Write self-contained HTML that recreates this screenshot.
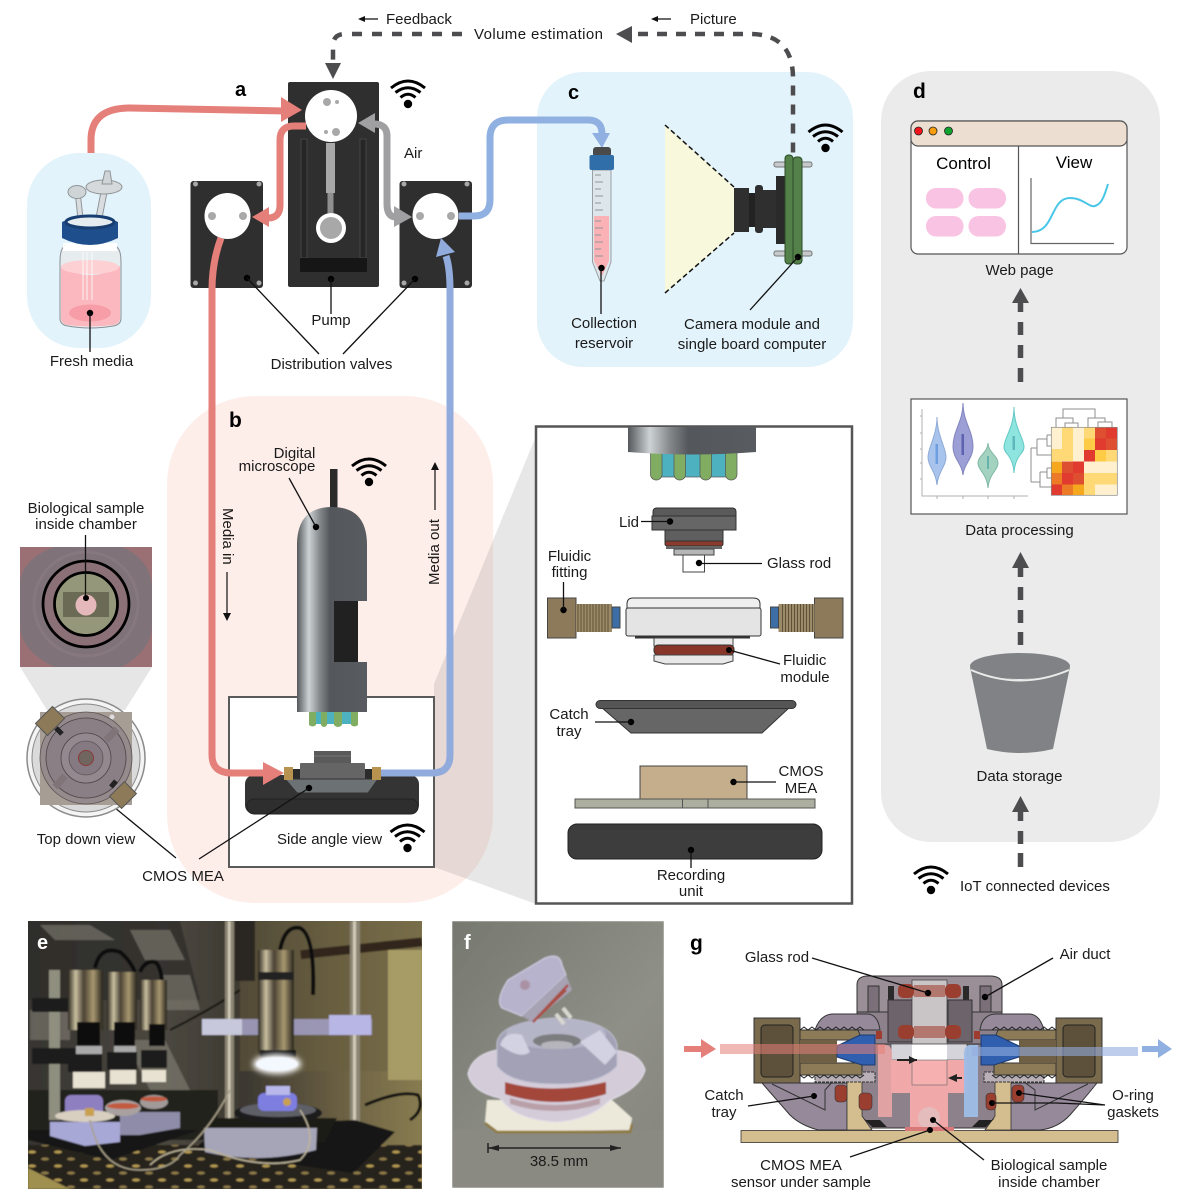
<!DOCTYPE html>
<html><head><meta charset="utf-8"><style>
html,body{margin:0;padding:0;background:#fff}
svg{display:block}
text{font-family:"Liberation Sans",sans-serif;font-size:15px;fill:#1a1a1a}
.m{text-anchor:middle}
.b{font-weight:bold;font-size:20px;fill:#000}
.ln{stroke:#111;stroke-width:1.3;fill:none}
.t{fill:none;stroke-width:7;stroke-linecap:butt}
.dash{fill:none;stroke:#4d4d4f;stroke-width:4.5}
</style></head><body>
<svg width="1191" height="1199" viewBox="0 0 1191 1199" xmlns="http://www.w3.org/2000/svg">
<defs>
<linearGradient id="scope" x1="0" x2="1" y1="0" y2="0"><stop offset="0" stop-color="#54585b"/><stop offset=".17" stop-color="#cdd2d5"/><stop offset=".33" stop-color="#83878a"/><stop offset=".47" stop-color="#54585c"/><stop offset="1" stop-color="#585c60"/></linearGradient>
<linearGradient id="metal" x1="0" x2="1" y1="0" y2="0"><stop offset="0" stop-color="#2a261e"/><stop offset=".22" stop-color="#c9bf9f"/><stop offset=".45" stop-color="#4a4234"/><stop offset=".72" stop-color="#a89870"/><stop offset="1" stop-color="#26221c"/></linearGradient>
<linearGradient id="fbg" x1="0" x2="1" y1="0" y2="1"><stop offset="0" stop-color="#76786f"/><stop offset=".6" stop-color="#8e8f86"/><stop offset="1" stop-color="#85847d"/></linearGradient>
<linearGradient id="ebg" x1="0" x2="1" y1="0" y2="0"><stop offset="0" stop-color="#35332f"/><stop offset=".35" stop-color="#4c4840"/><stop offset=".55" stop-color="#3c3830"/><stop offset=".8" stop-color="#6e6344"/><stop offset="1" stop-color="#8a7e52"/></linearGradient>
<pattern id="holes" x="0" y="0" width="26" height="14" patternUnits="userSpaceOnUse"><rect width="26" height="14" fill="#25231f"/><ellipse cx="6" cy="4" rx="4" ry="1.500" fill="#b59a52"/><ellipse cx="19" cy="11" rx="4" ry="1.500" fill="#8d7a48"/></pattern>
<filter id="bl" x="-5%" y="-5%" width="110%" height="110%"><feGaussianBlur stdDeviation=".9"/></filter>
<filter id="gl" x="-40%" y="-80%" width="180%" height="260%"><feGaussianBlur stdDeviation="3"/></filter>
<clipPath id="ce"><rect x="28" y="921" width="394" height="268"/></clipPath>
<clipPath id="cf"><rect x="452" y="921" width="212" height="267"/></clipPath>
<g id="wifi"><circle cx="0" cy="0" r="4.2" fill="#000"/><path d="M-7.5,-6.5Q0,-13 7.5,-6.5M-12.5,-11.5Q0,-21 12.5,-11.5M-17,-16Q0,-30 17,-16" fill="none" stroke="#000" stroke-width="3"/></g>
</defs>

<!-- panels -->
<rect x="27" y="153" width="124" height="195" rx="52" fill="#e3f3fb"/>
<rect x="537" y="72" width="316" height="295" rx="46" fill="#e3f3fb"/>
<rect x="881" y="71" width="279" height="771" rx="50" fill="#ebebeb"/>
<rect x="167" y="396" width="326" height="507" rx="88" fill="#feeeea"/>
<polygon points="434,684 536,436 536,904 434,867" fill="#6e6e6e" fill-opacity=".17"/>

<!-- top feedback -->
<path class="dash" d="M462,34H345Q333,34 333,46V62" stroke-dasharray="10 10"/>
<polygon points="325,63 341,63 333,79" fill="#4d4d4f"/>
<polygon points="616,34 632,26 632,43" fill="#4d4d4f"/>
<path class="dash" d="M638,34H750Q793,34 793,78V155" stroke-dasharray="10 9"/>
<path d="M364,19H378M657,19H671" stroke="#111" stroke-width="1.3"/>
<polygon points="358,19 365,16 365,22" fill="#111"/><polygon points="651,19 658,16 658,22" fill="#111"/>
<text x="386" y="24">Feedback</text>
<text x="474" y="39" textLength="129">Volume estimation</text>
<text x="690" y="24">Picture</text>
<text x="235" y="96" class="b">a</text>

<!-- pump -->
<rect x="288" y="82" width="91" height="205" rx="2" fill="#2f2f2f"/>
<rect x="301" y="139" width="6" height="119" fill="#262626" stroke="#444"/><rect x="360" y="139" width="6" height="119" fill="#262626" stroke="#444"/>
<rect x="300" y="258" width="67" height="14" rx="1" fill="#161616"/>
<rect x="326" y="143" width="9" height="50" fill="#a8a8a8"/><rect x="327.500" y="193" width="6" height="20" fill="#8f8f8f"/>
<circle cx="331" cy="228" r="15" fill="#fff"/><circle cx="331" cy="228" r="11" fill="#a8a8a8"/>
<circle cx="331" cy="116" r="26" fill="#fff"/>
<circle cx="327" cy="102" r="4" fill="#a8a8a8"/><circle cx="337" cy="102" r="2" fill="#a8a8a8"/><circle cx="326" cy="132" r="2" fill="#a8a8a8"/><circle cx="336" cy="132" r="4" fill="#a8a8a8"/>
<!-- valves -->
<g id="v1"><rect x="190.500" y="181" width="72.500" height="107" rx="3" fill="#2f2f2f"/>
<circle cx="195.500" cy="184" r="2.500" fill="#a8a8a8"/><circle cx="259" cy="184" r="2.500" fill="#a8a8a8"/><circle cx="195.500" cy="283" r="2.500" fill="#a8a8a8"/><circle cx="259" cy="283" r="2.500" fill="#a8a8a8"/>
<circle cx="227.500" cy="216" r="23" fill="#fff"/><circle cx="212" cy="216" r="4" fill="#a8a8a8"/><circle cx="243" cy="216" r="4" fill="#a8a8a8"/></g>
<rect x="399.500" y="181" width="72.500" height="107" rx="3" fill="#2f2f2f"/>
<circle cx="404" cy="184" r="2.500" fill="#a8a8a8"/><circle cx="467" cy="184" r="2.500" fill="#a8a8a8"/><circle cx="404" cy="283" r="2.500" fill="#a8a8a8"/><circle cx="467" cy="283" r="2.500" fill="#a8a8a8"/>
<circle cx="435.500" cy="216" r="23" fill="#fff"/><circle cx="420" cy="216" r="4" fill="#a8a8a8"/><circle cx="451" cy="216" r="4" fill="#a8a8a8"/>

<!-- bottle -->
<path d="M81,223 L78,196" stroke="#8f9598" stroke-width="6" fill="none"/><path d="M81,223 L78,196" stroke="#d9dde0" stroke-width="4" fill="none"/>
<path d="M98,223 L104,192" stroke="#8f9598" stroke-width="7" fill="none"/><path d="M98,223 L104,192" stroke="#d9dde0" stroke-width="5" fill="none"/>
<ellipse cx="77" cy="192" rx="9" ry="6.500" fill="#cfd4d6" stroke="#8f9598"/><ellipse cx="104" cy="187" rx="18" ry="7" fill="#d5d9db" stroke="#8f9598"/><path d="M105,171l5,0 2,13h-10z" fill="#cfd4d6" stroke="#8f9598"/>
<path d="M60,262q0,-14 5,-16h50q6,2 6,16v56q0,7 -8,8q-23,4 -45,0q-8,-1 -8,-8z" fill="#e7ecef" stroke="#8a8f93" stroke-width="1"/>
<path d="M61,266Q90,284 120,266V318q0,6 -7,7q-23,3 -45,0q-7,-1 -7,-7z" fill="#fbb9bf"/>
<ellipse cx="90" cy="267" rx="29" ry="7" fill="#fdd0d4"/>
<ellipse cx="90" cy="313" rx="21" ry="8.500" fill="#f79da8"/>
<path d="M83,252V300M92,252V300M87,252V300" stroke="#fff" stroke-opacity=".4" stroke-width="2"/>
<rect x="63" y="243" width="54" height="8" fill="#fff"/>
<path d="M62,222Q90,208 118,222V238Q90,252 62,238Z" fill="#1f4e8c"/><ellipse cx="90" cy="222" rx="24" ry="6" fill="#e4ecf0" stroke="#173e70" stroke-width="3"/>
<circle cx="90" cy="313" r="3.200" fill="#000"/><path class="ln" d="M90,313V352"/>
<text x="91.500" y="366" class="m">Fresh media</text>

<!-- tubes a -->
<path class="t" stroke="#e57f79" d="M91,153V140Q91,108 130,108L285,111"/>
<polygon points="281,97 302,110 281,122" fill="#e57f79"/>
<path class="t" stroke="#e57f79" d="M306,126H294Q280,126 280,140V205Q280,218 268,218"/>
<polygon points="252,217 269,207 269,227" fill="#e57f79"/>
<path class="t" stroke="#a0a0a2" d="M374,124Q387,124 387,136V204Q387,217 396,217"/>
<polygon points="358,123 375,113 375,133" fill="#a0a0a2"/><polygon points="412,217 394,206 394,227" fill="#a0a0a2"/>
<text x="404" y="158">Air</text>

<!-- leader a -->
<circle cx="331" cy="279" r="3.200" fill="#000"/><circle cx="247" cy="278" r="3.200" fill="#000"/><circle cx="415" cy="279" r="3.200" fill="#000"/>
<path class="ln" d="M331,279V314M247,278L319,354M415,279L343,354"/>
<text x="331" y="325" class="m">Pump</text>
<text x="331.500" y="369" class="m">Distribution valves</text>

<!-- wedge-left -->
<polygon points="20,667 152,667 125,710 47,710" fill="#e6e6e6"/>

<!-- box side -->
<rect x="229" y="697" width="205" height="170" fill="#fff" stroke="#5a5a5a" stroke-width="2"/>
<rect x="245" y="775" width="174" height="39" rx="9" fill="#343434"/>
<rect x="247" y="799" width="171" height="15" rx="7" fill="#2e2e2e" stroke="#222"/>
<rect x="293" y="769" width="79" height="10" fill="#2b2b2b"/>
<rect x="314" y="751" width="37" height="13" fill="#5a5a5a"/><path d="M314,756H351" stroke="#777"/>
<rect x="300" y="763" width="65" height="16" rx="1" fill="#656565"/>
<polygon points="285,779 378,779 368,793 297,793" fill="#6c7274" stroke="#333"/>
<rect x="284" y="767" width="9" height="13" fill="#b8924f"/><rect x="372" y="767" width="9" height="13" fill="#b8924f"/>

<!-- tubes b -->
<path class="t" stroke="#e57f79" d="M221,238Q212,262 212,290V755Q212,773 232,773H266"/>
<polygon points="263,762 284,773 263,785" fill="#e57f79"/>
<path class="t" stroke="#92abdd" d="M381,773H432Q450,773 450,755V290Q450,268 446,256"/>
<polygon points="441,238 455,252 436,257" fill="#92abdd"/>
<!-- blue to c -->
<path class="t" stroke="#8fb0e0" d="M459,216H474Q490,216 490,200V138Q490,120 508,120H588Q602,120 602,134"/>
<polygon points="602,148 592,133 610,133" fill="#8fb0e0"/>

<use href="#wifi" x="408" y="104"/>
<use href="#wifi" x="825.500" y="148"/>
<use href="#wifi" x="369" y="482"/>
<use href="#wifi" x="407.500" y="848"/>
<use href="#wifi" x="931" y="890"/>

<!-- microscope -->
<rect x="330" y="469" width="7.500" height="40" fill="#2b2b2b"/>
<rect x="310" y="712" width="48" height="12" fill="#4db1c0"/>
<path d="M309,712h7v13q-3.500,3 -7,0zM321,712h6v13q-3,4 -6,0zM334,712h8v13q-4,4 -8,0zM351,712h7v13q-3.500,3 -7,0z" fill="#80ad62"/>
<path d="M297,545Q297,507 332,507Q367,507 367,545V601H334V662H367V712H297Z" fill="url(#scope)"/>
<rect x="334" y="601" width="24" height="61" fill="#212121"/>
<circle cx="316" cy="527" r="3.200" fill="#000"/><path class="ln" d="M289,478L316,527"/>
<text x="294.500" y="458" class="m">Digital</text>
<text x="277" y="471" class="m">microscope</text>
<text x="229" y="427" class="b" style="font-size:21px">b</text>
<circle cx="309" cy="788" r="3.200" fill="#000"/><path class="ln" d="M309,788L199,859"/>
<circle cx="103" cy="798" r="3" fill="#000"/><path class="ln" d="M103,798L176,858"/>
<text x="277" y="844">Side angle view</text>
<text x="86" y="844" class="m">Top down view</text>
<text x="183" y="881" class="m">CMOS MEA</text>
<text transform="translate(223,508) rotate(90)">Media in</text>
<path d="M227,572V614" stroke="#111" stroke-width="1.200"/><polygon points="227,621 223,613 231,613" fill="#111"/>
<text transform="translate(439,585) rotate(-90)">Media out</text>
<path d="M435,510V468" stroke="#111" stroke-width="1.200"/><polygon points="435,462 431,470 439,470" fill="#111"/>

<!-- inset top-down -->
<rect x="20" y="547" width="132" height="120" fill="#7f7379"/>
<path d="M20,547h34Q20,560 20,585zM152,547h-30Q152,560 152,590zM20,667h34Q20,650 20,625zM152,667h-30Q152,650 152,625z" fill="#9a7074"/>
<circle cx="86" cy="604" r="52" fill="none" stroke="#87787f" stroke-width="3"/>
<circle cx="86" cy="604" r="43" fill="#8b7078" stroke="#000" stroke-width="2.800"/>
<circle cx="86" cy="604" r="31.500" fill="#95977a" stroke="#000" stroke-width="2.800"/>
<rect x="63" y="592" width="46" height="25" fill="#6b6b55"/>
<circle cx="86" cy="605" r="10.500" fill="#e5b9bb"/>
<path class="ln" d="M85.500,535V598"/><circle cx="86" cy="598" r="3" fill="#000"/>
<text x="86" y="513" class="m">Biological sample</text>
<text x="86" y="529" class="m">inside chamber</text>
<circle cx="86" cy="758" r="59" fill="#f4f4f4" stroke="#8a8a8a" stroke-width="1.500"/>
<circle cx="86" cy="758" r="54" fill="#dadada" stroke="#888"/>
<rect x="40" y="712" width="92" height="93" fill="#a69d95"/>
<circle cx="112" cy="717" r="2.500" fill="#ddd"/>
<circle cx="86" cy="758" r="46" fill="#958a8c" stroke="#5c5456" stroke-width=".8"/>
<circle cx="86" cy="758" r="40" fill="#8b7f86" stroke="#4a4448" stroke-width=".8"/>
<circle cx="86" cy="758" r="25" fill="#94888f" stroke="#4a4448" stroke-width=".8"/>
<circle cx="86" cy="758" r="17" fill="#867a82" stroke="#5c5456" stroke-width=".8"/>
<circle cx="86" cy="758" r="7.500" fill="#70655f" stroke="#8a3a3a"/>
<path d="M106,740L117,729M55,787L65,776" stroke="#807478" stroke-width="7"/>
<path d="M56,728L62,734M111,787L116,781" stroke="#222" stroke-width="5"/>
<rect x="38" y="712.500" width="24" height="17" transform="rotate(-45 50 721)" fill="#8c7a58" stroke="#555"/>
<rect x="112.500" y="786.500" width="21" height="17" transform="rotate(-45 123 795)" fill="#8c7a58" stroke="#555"/>

<!-- c -->
<text x="568" y="99" class="b">c</text>
<polygon points="665,125 734,187 734,233 665,293" fill="#f8f8dc"/>
<path d="M665,125L734,187M665,293L734,233" stroke="#111" stroke-width="1.500" stroke-dasharray="5 3"/>
<rect x="734" y="188" width="15" height="44" fill="#2f2f2f"/><rect x="749" y="193" width="7" height="34" fill="#222"/><rect x="755" y="185" width="8" height="48" rx="3" fill="#2f2f2f"/><rect x="763" y="190" width="13" height="38" fill="#2f2f2f"/><rect x="776" y="176" width="10" height="68" fill="#2a2a2a"/>
<rect x="774" y="162" width="38" height="5" rx="2" fill="#c5c9cb" stroke="#777"/><rect x="774" y="251" width="38" height="5" rx="2" fill="#c5c9cb" stroke="#777"/>
<rect x="785" y="155" width="8" height="109" rx="3.500" fill="#548049" stroke="#2b4a27"/>
<rect x="793" y="157" width="9" height="107" rx="3.500" fill="#548049" stroke="#2b4a27"/>
<circle cx="798" cy="257" r="3.200" fill="#000"/><path class="ln" d="M798,257L750,310"/>
<text x="752" y="329" class="m">Camera module and</text>
<text x="752" y="349" class="m">single board computer</text>
<!-- collection tube -->
<path d="M592.500,170H611V262L604,281H600L592.500,262Z" fill="#dde6ea" stroke="#98a0a4"/>
<path d="M594,216H609V261L602,276L594,261Z" fill="#fbb2b6"/>
<path d="M595,175h6M595,182h8M595,189h6M595,196h8M595,203h6M595,210h8M595,221h6M595,228h8M595,235h6M595,242h8M595,249h6M595,256h8" stroke="#8f9598"/>
<rect x="593" y="147" width="18" height="10" rx="3" fill="#4a4a4a"/>
<rect x="589.500" y="155" width="24.500" height="15" rx="2" fill="#2f6ea8"/>
<circle cx="601.500" cy="268" r="3.200" fill="#000"/><path class="ln" d="M601,268V314"/>
<text x="604" y="328" class="m">Collection</text>
<text x="604" y="348" class="m">reservoir</text>

<!-- d -->
<text x="913" y="98" class="b" style="font-size:21px">d</text>
<rect x="911" y="121" width="216" height="133" rx="7" fill="#fff" stroke="#555" stroke-width="1.200"/>
<path d="M911,128a7,7 0 0 1 7,-7h202a7,7 0 0 1 7,7v11a7,7 0 0 1 -7,7h-202a7,7 0 0 1 -7,-7z" fill="#ecdfd2" stroke="#555" stroke-width="1.200"/>
<circle cx="918.500" cy="131" r="4" fill="#f5141c" stroke="#222" stroke-width=".8"/><circle cx="933" cy="131" r="4" fill="#f69c0d" stroke="#222" stroke-width=".8"/><circle cx="948.500" cy="131" r="4" fill="#12a32f" stroke="#222" stroke-width=".8"/>
<path d="M1018.500,146V254" stroke="#555" stroke-width="1.200"/>
<text x="963.500" y="169" class="m" style="font-size:17px;fill:#000">Control</text>
<text x="1074" y="168" class="m" style="font-size:17px;fill:#000">View</text>
<rect x="926" y="188" width="37.500" height="20.500" rx="10" fill="#f9c3e3"/><rect x="968.500" y="188" width="37.500" height="20.500" rx="10" fill="#f9c3e3"/>
<rect x="926" y="216" width="37.500" height="20.500" rx="10" fill="#f9c3e3"/><rect x="968.500" y="216" width="37.500" height="20.500" rx="10" fill="#f9c3e3"/>
<path d="M1031,178V243.500H1114" fill="none" stroke="#666" stroke-width="1.200"/>
<path d="M1032,232C1055,232 1050,198 1070,198C1085,198 1090,210 1097,205C1102,203 1105,194 1108,184" fill="none" stroke="#48c6e8" stroke-width="2"/>
<text x="1019.500" y="275" class="m">Web page</text>
<polygon points="1020.500,288 1012,303 1029,303" fill="#4d4d4f"/>
<path d="M1020.500,302V312M1020.500,322V335M1020.500,345V358M1020.500,368V382" stroke="#4d4d4f" stroke-width="5.500"/>
<rect x="911" y="399" width="216" height="115" fill="#fff" stroke="#555" stroke-width="1.200"/>
<!-- violins -->
<path d="M922,409V496H1028M922,416h-2M922,433h-2M922,449h-2M922,463h-2M922,479h-2M937,496v3M963,496v3M988,496v3M1014,496v3" fill="none" stroke="#b0b0b0"/>
<path d="M937,417C937,435 946,448 946,457C946,466 938,472 937,485C936,472 928,466 928,457C928,448 937,435 937,417Z" fill="#a9c4ec" stroke="#8eaad8"/>
<rect x="935.500" y="444" width="2.500" height="20" fill="#6f9ee0"/>
<path d="M963,403C963,422 973,430 973,447C973,458 964,464 963,475C962,464 953,458 953,447C953,430 963,422 963,403Z" fill="#9b9fd6" stroke="#8285bd"/>
<rect x="961.500" y="434" width="2.500" height="21" fill="#5c62b0"/>
<path d="M988,443C988,452 998,456 998,463C998,470 989,474 988,488C987,474 978,470 978,463C978,456 988,452 988,443Z" fill="#a4d2c1" stroke="#80b8a4"/>
<rect x="987" y="456" width="2" height="13" fill="#66b3ac"/>
<path d="M1014,407C1014,428 1024,438 1024,447C1024,454 1015,455 1014,473C1013,455 1004,454 1004,447C1004,438 1014,428 1014,407Z" fill="#8ee4de" stroke="#62c8c4"/>
<rect x="1012.500" y="436" width="2.500" height="14" fill="#5eb7bc"/>
<!-- heatmap -->
<g shape-rendering="crispEdges">
<rect x="1051.300" y="427.300" width="66" height="68" fill="#fff1cf"/>
<path d="M1062,427h11v34h-22v-12h11z" fill="#fed976"/>
<rect x="1084" y="427" width="11" height="11.500" fill="#fed976"/><rect x="1084" y="438.500" width="11" height="11.500" fill="#fecb46"/>
<rect x="1095" y="427" width="11" height="11.500" fill="#dd4f30"/><rect x="1106" y="427" width="11" height="11.500" fill="#e13a2f"/>
<rect x="1095" y="438.500" width="11" height="11.500" fill="#e13a2f"/><rect x="1106" y="438.500" width="11" height="11.500" fill="#dd4f30"/>
<rect x="1084" y="450" width="11" height="11.500" fill="#e13a2f"/><rect x="1095" y="450" width="11" height="11.500" fill="#fecb46"/><rect x="1106" y="450" width="11" height="11.500" fill="#fed976"/>
<rect x="1051" y="461.500" width="11" height="11.500" fill="#f5a81d"/><rect x="1062" y="461.500" width="11" height="11.500" fill="#dd4f30"/><rect x="1073" y="461.500" width="11" height="11.500" fill="#e13a2f"/>
<rect x="1051" y="473" width="11" height="11.500" fill="#ec7a26"/><rect x="1062" y="473" width="11" height="11.500" fill="#e13a2f"/><rect x="1073" y="473" width="11" height="11.500" fill="#dd4f30"/>
<rect x="1084" y="473" width="33" height="11.500" fill="#fed976"/>
<rect x="1051" y="484.500" width="11" height="11" fill="#e13a2f"/><rect x="1062" y="484.500" width="11" height="11" fill="#ec7a26"/><rect x="1073" y="484.500" width="11" height="11" fill="#f5a81d"/><rect x="1084" y="484.500" width="11" height="11" fill="#fed976"/>
</g>
<rect x="1051.300" y="427.300" width="66" height="68" fill="none" stroke="#888" stroke-width=".7"/>
<path d="M1063,418V409H1095V418M1056,427V418H1073V423M1065,427V423H1078V427M1088,427V418H1105V422M1098,427V422H1112V427M1031,448V482M1031,448H1037M1037,439V455H1051M1037,439H1047M1047,435V446H1051M1047,435H1051M1031,482H1040M1040,472V487H1051M1040,472H1047M1047,468V478H1051M1047,468H1051" fill="none" stroke="#8f8f8f"/>
<text x="1019.500" y="535" class="m">Data processing</text>
<polygon points="1020.500,552 1012,568 1029,568" fill="#4d4d4f"/>
<path d="M1020.500,567V577M1020.500,587V600M1020.500,610V623M1020.500,632V645" stroke="#4d4d4f" stroke-width="5.500"/>
<!-- bucket -->
<ellipse cx="1020" cy="666" rx="50" ry="13" fill="#808285"/>
<path d="M970,667Q1020,692 1070,667L1053,749Q1020,757 987,749Z" fill="#808285"/>
<path d="M971,670Q1020,691 1069,670" fill="none" stroke="#ebebeb" stroke-width="2"/>
<text x="1019.500" y="781" class="m">Data storage</text>
<polygon points="1020.500,796 1012,812 1029,812" fill="#4d4d4f"/>
<path d="M1020.500,811V821M1020.500,831V844M1020.500,853V867" stroke="#4d4d4f" stroke-width="5.500"/>
<text x="960" y="891">IoT connected devices</text>

<!-- exploded box -->
<rect x="536" y="426.500" width="316" height="477" fill="#fff" stroke="#555" stroke-width="2.500"/>
<rect x="655" y="450" width="78" height="27" fill="#4db1c0" stroke="#555" stroke-width=".7"/>
<rect x="650.500" y="448" width="11.500" height="32" rx="5.500" fill="#80ad62" stroke="#555" stroke-width=".7"/>
<rect x="674" y="448" width="11.500" height="32" rx="5.500" fill="#80ad62" stroke="#555" stroke-width=".7"/>
<rect x="700" y="448" width="11.500" height="32" rx="5.500" fill="#80ad62" stroke="#555" stroke-width=".7"/>
<rect x="725.500" y="448" width="11.500" height="32" rx="5.500" fill="#80ad62" stroke="#555" stroke-width=".7"/>
<path d="M628,427H756V452Q692,457 628,452Z" fill="url(#scope)"/>
<path d="M653,516v-4q0,-4 4,-4h75q4,0 4,4v4z" fill="#5a5a5a" stroke="#333"/>
<rect x="652" y="516" width="84" height="14" fill="#666" stroke="#333"/>
<rect x="665" y="530" width="58" height="12" fill="#5f5f5f" stroke="#333"/>
<rect x="665" y="541" width="58" height="5" rx="2" fill="#8b3a2e" stroke="#333"/>
<rect x="666" y="546" width="56" height="3" fill="#666"/>
<rect x="674" y="549" width="40" height="6" fill="#b5b5b5" stroke="#444"/>
<rect x="683" y="555" width="21.500" height="17" fill="#fff" stroke="#444"/>
<circle cx="670" cy="521.500" r="3.200" fill="#000"/><path class="ln" d="M641,521.500H670"/>
<circle cx="699" cy="563" r="3.200" fill="#000"/><path class="ln" d="M699,563.500H762"/>
<text x="619" y="527">Lid</text><text x="767" y="568">Glass rod</text>
<path d="M627,608v-4q0,-6 6,-6h120q7,0 7,6v4z" fill="#efefef" stroke="#333"/>
<rect x="626" y="608" width="135" height="28" rx="2" fill="#e4e4e4" stroke="#333"/>
<rect x="635" y="636" width="115" height="2.500" fill="#333"/>
<rect x="654" y="638" width="79" height="8" fill="#e8e8e8" stroke="#444"/>
<rect x="654" y="645" width="80" height="10" rx="4" fill="#873629" stroke="#333"/>
<path d="M654,655H733V661L723,664H665L654,661Z" fill="#e8e8e8" stroke="#444"/>
<g id="fit">
<rect x="547.500" y="598" width="28.500" height="40" fill="#8c7a5b" stroke="#444"/>
<rect x="576" y="604" width="36" height="28" fill="#9b8b68"/>
<path d="M578,604v28M581,604v28M584,604v28M587,604v28M590,604v28M593,604v28M596,604v28M599,604v28M602,604v28M605,604v28M608,604v28" stroke="#5f5238" stroke-width="1"/>
<rect x="612" y="607" width="8" height="21" fill="#3c6ea5" stroke="#444"/>
</g>
<use href="#fit" transform="matrix(-1 0 0 1 1390.500 0)"/>
<circle cx="563.500" cy="610" r="3.200" fill="#000"/><path class="ln" d="M563.500,582V610"/>
<text x="569.500" y="561" class="m">Fluidic</text><text x="569.500" y="577" class="m">fitting</text>
<circle cx="729" cy="650" r="3" fill="#000"/><path class="ln" d="M729,650L780,664"/>
<text x="783" y="665">Fluidic</text><text x="805" y="682" class="m">module</text>
<polygon points="601,707 790,707 762,733 631,733" fill="#666" stroke="#333"/>
<rect x="596" y="700.500" width="200" height="8" rx="4" fill="#555" stroke="#333"/>
<circle cx="631" cy="722" r="3.200" fill="#000"/><path class="ln" d="M595,722H631"/>
<text x="569" y="719" class="m">Catch</text><text x="569" y="736" class="m">tray</text>
<rect x="640" y="766" width="107" height="33" fill="#c5ae8b" stroke="#444"/>
<rect x="575" y="799" width="240" height="9" fill="#acaea0" stroke="#555"/><path d="M682.500,799v9M708,799v9" stroke="#555"/>
<circle cx="733.500" cy="782" r="3.200" fill="#000"/><path class="ln" d="M733,782H776"/>
<text x="801" y="776" class="m">CMOS</text><text x="801" y="793" class="m">MEA</text>
<rect x="568" y="824" width="254" height="35" rx="9" fill="#3d3d3d" stroke="#222"/>
<circle cx="691" cy="850" r="3.200" fill="#000"/><path class="ln" d="M691,850V868"/>
<text x="691" y="880" class="m">Recording</text><text x="691" y="896" class="m">unit</text>

<!-- photo e -->
<g clip-path="url(#ce)"><g filter="url(#bl)">
<rect x="20" y="915" width="410" height="280" fill="url(#ebg)"/>
<path d="M28,921H180L200,1000H28Z" fill="#2c2b29" opacity=".7"/>
<path d="M40,925h50l25,15h-60zM130,930h40l15,30h-40zM160,975h30l10,35h-35zM125,1040h40l25,50h-40zM30,1010h40v30h-40z" fill="#8a867c" opacity=".55"/>
<rect x="240" y="921" width="182" height="150" fill="#6a5f40" opacity=".5"/>
<rect x="388" y="950" width="34" height="130" fill="#a89c66"/>
<rect x="300" y="945" width="122" height="9" fill="#30281a" transform="rotate(-6 350 945)"/>
<rect x="235" y="921" width="20" height="60" fill="#2a2722"/>
<path d="M240,990Q210,1010 170,1030" fill="none" stroke="#14130f" stroke-width="2"/>
<rect x="28" y="1090" width="190" height="50" fill="#24221f"/>
<rect x="28" y="1145" width="394" height="44" fill="url(#holes)"/>
<polygon points="28,1168 70,1189 28,1189" fill="#a09050"/>
<rect x="49" y="970" width="11" height="150" fill="#8f8f80"/>
<path d="M225,921h9V1125h-9zM350,921h10V1140h-10z" fill="#8c8674"/>
<path d="M228,921h2.500V1125h-2.500zM353,921h3V1140h-3z" fill="#d0cab8"/>
<rect x="32" y="998" width="50" height="14" fill="#1d1c1b"/><rect x="32" y="1048" width="50" height="16" fill="#1d1c1b"/>
<path d="M95,968Q100,945 120,952Q130,960 135,972M140,972Q145,960 155,962Q160,965 162,980M280,950Q285,925 300,928Q315,935 313,995" fill="none" stroke="#111" stroke-width="4"/>
<rect x="68" y="970" width="35" height="60" fill="url(#metal)"/><rect x="77" y="1022" width="23" height="24" fill="#111"/><rect x="76" y="1046" width="26" height="8" fill="#aaa"/><rect x="68" y="1054" width="34" height="18" fill="#1c1c1c"/>
<path d="M73,1072h32v16h-32z" fill="#e8e2d2"/>
<rect x="107" y="972" width="30" height="58" fill="url(#metal)"/><rect x="114" y="1022" width="21" height="24" fill="#111"/><rect x="114" y="1046" width="22" height="6" fill="#aaa"/><rect x="107" y="1052" width="30" height="18" fill="#1c1c1c"/>
<path d="M110,1070h26v14h-26z" fill="#e8e2d2"/>
<rect x="140" y="980" width="27" height="50" fill="url(#metal)"/><rect x="149" y="1024" width="16" height="22" fill="#111"/><rect x="141" y="1050" width="26" height="18" fill="#1c1c1c"/>
<path d="M142,1070h24v12h-24z" fill="#e8e2d2"/>
<rect x="202" y="1019" width="170" height="16" fill="#a09cc0" opacity=".9"/><rect x="329" y="1015" width="42" height="20" fill="#b8b6e4"/><rect x="202" y="1019" width="40" height="16" fill="#c8c8dc"/>
<rect x="258" y="950" width="36" height="105" fill="url(#metal)"/><rect x="258" y="972" width="36" height="8" fill="#222"/>
<rect x="260" y="1050" width="36" height="7" fill="#111"/>
<ellipse cx="277" cy="1064" rx="24" ry="10" fill="#fff" filter="url(#gl)"/><ellipse cx="277" cy="1064" rx="21" ry="7" fill="#f4f8ff"/>
<path d="M28,1130L130,1130L200,1130L110,1160L28,1140Z" fill="#161616"/>
<path d="M192,1150L225,1125L355,1120L395,1132L353,1173Z" fill="#141414"/>
<path d="M210,1118H337L325,1142H210Z" fill="#1b1a18"/>
<path d="M204,1128H317L316,1150Q260,1165 205,1152Z" fill="#a6a5b8"/>
<ellipse cx="278" cy="1113" rx="44" ry="10" fill="#1e1e1e"/><ellipse cx="278" cy="1110" rx="38" ry="7" fill="#5f5f68"/>
<rect x="258" y="1093" width="39" height="18" rx="6" fill="#7e7ee0"/><rect x="266" y="1086" width="24" height="9" fill="#b8b8ea"/>
<circle cx="287" cy="1102" r="4" fill="#c8a050"/>
<path d="M300,1110Q320,1140 300,1160Q260,1170 210,1150Q170,1145 150,1165" fill="none" stroke="#bdb49a" stroke-width="1.500"/>
<path d="M120,1112H180V1128L140,1135H120Z" fill="#8e8ca8"/>
<path d="M50,1122H120V1142L85,1146L50,1136Z" fill="#a8a8d6"/>
<rect x="65" y="1095" width="38" height="22" rx="6" fill="#8e7fc0"/>
<ellipse cx="85" cy="1116" rx="30" ry="6" fill="#d8cfc0"/>
<ellipse cx="123" cy="1108" rx="18" ry="8" fill="#a8a1a0"/><ellipse cx="123" cy="1106" rx="16" ry="3" fill="#c25a40"/>
<ellipse cx="154" cy="1102" rx="14" ry="7" fill="#a19a98"/><ellipse cx="154" cy="1099" rx="13" ry="2.500" fill="#c25a40"/>
<rect x="85" y="1108" width="9" height="8" fill="#c8a050"/>
<path d="M90,1120Q100,1170 140,1170Q170,1170 180,1155Q210,1130 230,1090" fill="none" stroke="#a8a088" stroke-width="1.500"/>
<path d="M365,1105Q400,1090 418,1095Q425,1110 410,1120" fill="none" stroke="#111" stroke-width="3"/>
</g></g>
<text x="37" y="949" class="b" style="fill:#fff">e</text>

<!-- photo f -->
<g clip-path="url(#cf)"><g filter="url(#bl)">
<rect x="452" y="921" width="212" height="267" fill="url(#fbg)"/>
<rect x="452" y="1130" width="212" height="58" fill="#8a8a82"/>
<polygon points="487,1100 612,1100 632,1118 630,1130 497,1132 485,1122" fill="#ece8da"/>
<path d="M485,1123L497,1132H630L632,1124" fill="none" stroke="#8f7838" stroke-width="2.500"/>
<path d="M468,1074Q472,1055 497,1050L612,1050Q640,1052 645,1070Q640,1088 610,1100Q590,1120 556,1122Q515,1120 500,1098Q472,1092 468,1074Z" fill="#d4ccd9" stroke="#e2deea"/>
<path d="M505,1082Q550,1095 606,1082V1094Q555,1110 505,1094Z" fill="#a3463a"/>
<path d="M510,1098Q555,1112 600,1098V1104Q555,1118 510,1104Z" fill="#b9a0a8"/>
<path d="M497,1043Q500,1022 555,1018Q612,1020 617,1045V1066Q600,1085 555,1084Q510,1084 497,1066Z" fill="#a2a1b6" stroke="#c2c2d4"/>
<ellipse cx="556" cy="1034" rx="50" ry="15" fill="#b5b5c8"/>
<ellipse cx="557" cy="1041" rx="24" ry="7" fill="#7c7d7f"/><ellipse cx="557" cy="1045" rx="16" ry="4" fill="#b6b5bc"/>
<path d="M500,1045Q520,1060 530,1052L522,1035Q505,1030 500,1045ZM580,1042L605,1065L617,1052L600,1030Z" fill="#d2d2e2"/>
<path d="M502,1008Q495,1000 508,980L545,958Q560,952 562,965L566,975L522,1016Z" fill="#b7b3cc" stroke="#d4d2e6"/>
<path d="M522,1016L566,975L572,990L532,1022Z" fill="#a7a2b4"/>
<path d="M533,1022L568,985M537,1018L566,990" stroke="#a94e42" stroke-width="2.500"/>
<path d="M556,1014l8,10M563,1008l8,10" stroke="#d8d8d0" stroke-width="4"/>
<circle cx="525" cy="985" r="5" fill="#a0707c" opacity=".5"/>
</g></g>
<text x="464" y="949" class="b" style="fill:#fff">f</text>
<path d="M488,1148H621M488,1143V1153" stroke="#222" stroke-width="1.500" fill="none"/>
<polygon points="488,1148 499,1145 499,1151" fill="#222"/><polygon points="621,1148 610,1145 610,1151" fill="#222"/>
<text x="559" y="1166" class="m">38.5 mm</text>

<!-- g -->
<text x="690" y="950" class="b" style="font-size:21px">g</text>
<rect x="741" y="1130.500" width="377" height="12" fill="#d4bd8f" stroke="#333" stroke-width=".8"/>
<!-- catch tray -->
<path d="M762,1083H847V1130H818Q800,1125 790,1115Q775,1098 762,1083Z" fill="#96899a" stroke="#333"/>
<path d="M1097,1083H1010V1130H1040Q1058,1128 1070,1115Q1085,1098 1097,1083Z" fill="#96899a" stroke="#333"/>
<path d="M772,1084L825,1110V1090L835,1079" fill="none" stroke="#333"/>
<path d="M1088,1084L1035,1110V1090L1020,1079" fill="none" stroke="#333"/>
<!-- top cap -->
<path d="M857,1012V985Q857,976 868,976H990Q1002,976 1002,985V1012Z" fill="#9a8e97" stroke="#333"/>
<rect x="868" y="986" width="11" height="27" fill="#7b7079" stroke="#333"/><rect x="980" y="986" width="11" height="27" fill="#7b7079" stroke="#333"/>
<rect x="888" y="986" width="6" height="28" fill="#2a2a2a"/><rect x="963" y="986" width="6" height="28" fill="#2a2a2a"/>
<rect x="857" y="1012" width="145" height="42" fill="#8d828c" stroke="#333"/>
<rect x="888" y="1000" width="24" height="42" fill="#6d646b" stroke="#333"/><rect x="948" y="1000" width="24" height="42" fill="#6d646b" stroke="#333"/>
<!-- lower body -->
<path d="M860,1044H1000V1128H860Z" fill="#8d828c" stroke="#333"/>
<!-- post -->
<path d="M847,1078H862V1116L872,1130H847Z M995,1078H1011V1130H985L995,1116Z" fill="#d4bd8f" stroke="#333" stroke-width=".8"/>
<path d="M863,1118L872,1127H887L880,1120H866ZM995,1118L986,1127H972L979,1120H992Z" fill="#222"/>
<!-- threaded nuts -->
<path d="M815,1030Q820,1015 832,1014H868Q878,1015 880,1030Z" fill="#96899a" stroke="#333"/>
<path d="M980,1030Q982,1015 995,1014H1030Q1040,1015 1044,1030Z" fill="#96899a" stroke="#333"/>
<rect x="815" y="1072" width="60" height="10" fill="#b8b0b6" stroke="#333" stroke-dasharray="3 1"/>
<rect x="984" y="1072" width="60" height="10" fill="#b8b0b6" stroke="#333" stroke-dasharray="3 1"/>
<!-- fittings -->
<g id="gf">
<rect x="754" y="1018" width="46" height="65" fill="#7a6a4c" stroke="#333"/>
<rect x="761" y="1025" width="32" height="52" rx="4" fill="#5e513b" stroke="#222"/>
<path d="M800,1030H858L862,1040H800ZM800,1063H862V1075H800Z" fill="#8d7b57" stroke="#333"/>
<path d="M800,1030l4,-3 4,3 4,-3 4,3 4,-3 4,3 4,-3 4,3 4,-3 4,3 4,-3 4,3 4,-3 4,3 4,-3 4,3M800,1075l4,3 4,-3 4,3 4,-3 4,3 4,-3 4,3 4,-3 4,3 4,-3 4,3 4,-3 4,3 4,-3 4,3 4,-3" fill="none" stroke="#222"/>
<rect x="800" y="1040" width="37" height="23" fill="#6e5f45"/>
<polygon points="837,1046 860,1035 875,1035 875,1065 862,1065 837,1057" fill="#2f5fae" stroke="#1d3a6e"/>
</g>
<use href="#gf" transform="matrix(-1 0 0 1 1856 0)"/>
<rect x="876" y="1031" width="6" height="8" fill="#9e3d2f"/><rect x="974" y="1031" width="6" height="8" fill="#9e3d2f"/>
<!-- chamber -->
<rect x="891" y="1044" width="76" height="16" fill="#d5d4da" stroke="#333" stroke-width=".6"/>
<path d="M891,1060H967V1093H948V1128H910V1093H891Z" fill="#f0a8a8"/>
<rect x="912" y="1044" width="35" height="16" fill="#fff"/>
<rect x="912" y="980" width="35" height="64" fill="#c9c5c6" stroke="#444" stroke-width=".8"/>
<rect x="912" y="1060" width="35" height="25" fill="#f6b0b0" stroke="#666" stroke-width=".6"/>
<rect x="898" y="984" width="16" height="14" rx="5" fill="#9a3e30"/><rect x="945" y="984" width="16" height="14" rx="5" fill="#9a3e30"/><rect x="914" y="985" width="31" height="12" fill="#a8574a" opacity=".7"/>
<rect x="898" y="1025" width="16" height="14" rx="5" fill="#9a3e30"/><rect x="945" y="1025" width="16" height="14" rx="5" fill="#9a3e30"/><rect x="914" y="1026" width="31" height="12" fill="#a8574a" opacity=".7"/>
<path d="M878,1045H885Q892,1045 892,1054V1117H878Z" fill="#f0a8a8" opacity=".85"/>
<path d="M978,1045H971Q964,1045 964,1054V1117H978Z" fill="#9ebde8" opacity=".95"/>
<circle cx="929" cy="1118" r="11" fill="#e4bcbc"/>
<rect x="905" y="1127" width="49" height="4" fill="#d87878"/>
<!-- bands -->
<path d="M720,1044H885V1054H720Z" fill="#e57f79" opacity=".55"/>
<path d="M972,1047H1138V1056H972Z" fill="#92abdd" opacity=".6"/>
<path d="M684,1046H701V1039L716,1049L701,1058V1052H684Z" fill="#e57f79"/>
<path d="M1142,1046H1158V1039L1172,1049L1158,1058V1052H1142Z" fill="#8fb0e0"/>
<path d="M897,1060H917" stroke="#222" stroke-width="2"/>
<polygon points="917,1060 909,1056 909,1064" fill="#222"/>
<path d="M962,1078H950" stroke="#222" stroke-width="2"/><polygon points="948,1078 957,1074 957,1082" fill="#222"/>
<!-- o-rings -->
<rect x="835" y="1085" width="12" height="17" rx="4" fill="#9a3e30" stroke="#333" stroke-width=".6"/>
<rect x="859" y="1093" width="13" height="17" rx="4" fill="#9a3e30" stroke="#333" stroke-width=".6"/>
<rect x="1012" y="1085" width="12" height="17" rx="4" fill="#9a3e30" stroke="#333" stroke-width=".6"/>
<rect x="986" y="1093" width="10" height="17" rx="4" fill="#9a3e30" stroke="#333" stroke-width=".6"/>
<!-- leaders g -->
<circle cx="928" cy="993" r="3.200" fill="#000"/><path class="ln" d="M812,958L928,993"/>
<circle cx="985" cy="997" r="3.200" fill="#000"/><path class="ln" d="M1053,958L985,997"/>
<circle cx="814" cy="1096" r="3" fill="#000"/><path class="ln" d="M748,1106L814,1096"/>
<circle cx="1019" cy="1093" r="3" fill="#000"/><circle cx="992" cy="1103" r="3" fill="#000"/>
<path class="ln" d="M1019,1093L1105,1105M992,1103H1056L1105,1105"/>
<circle cx="930" cy="1130" r="3" fill="#000"/><path class="ln" d="M850,1157L930,1130"/>
<circle cx="933" cy="1120" r="3" fill="#000"/><path class="ln" d="M933,1120L984,1160"/>
<text x="777" y="962" class="m">Glass rod</text>
<text x="1085" y="959" class="m">Air duct</text>
<text x="724" y="1100" class="m">Catch</text><text x="724" y="1117" class="m">tray</text>
<text x="1133" y="1100" class="m">O-ring</text><text x="1133" y="1117" class="m">gaskets</text>
<text x="801" y="1170" class="m">CMOS MEA</text><text x="801" y="1187" class="m">sensor under sample</text>
<text x="1049" y="1170" class="m">Biological sample</text><text x="1049" y="1187" class="m">inside chamber</text>
</svg>
</body></html>
